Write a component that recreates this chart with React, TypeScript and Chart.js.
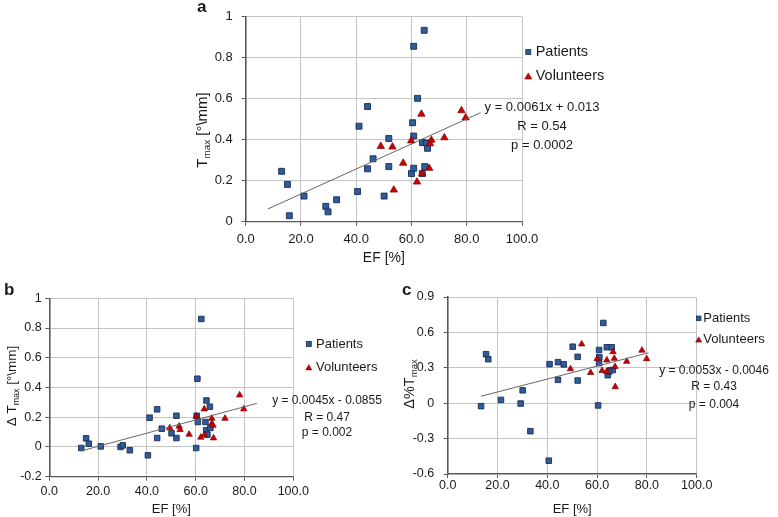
import React, { useEffect, useRef } from "react";
import { Chart, registerables } from "chart.js";

Chart.register(...registerables);

const FONT = '"Liberation Sans", Arial, Helvetica, sans-serif';

// ---------- tick labels ----------
const xTickLabels = ["0.0", "20.0", "40.0", "60.0", "80.0", "100.0"];
const aYTickLabels = ["0", "0.2", "0.4", "0.6", "0.8", "1"];
const bYTickLabels = ["-0.2", "0", "0.2", "0.4", "0.6", "0.8", "1"];
const cYTickLabels = ["-0.6", "-0.3", "0", "0.3", "0.6", "0.9"];

const seriesNames = ["Patients", "Volunteers"];

// ---------- panel a: Tmax vs EF ----------
const aPatientsEF = [13.0, 15.1, 15.8, 21.1, 29.0, 29.8, 32.9, 40.5, 41.0, 44.1, 44.1, 46.1, 50.1, 51.8, 51.8, 60.0, 60.4, 60.8, 60.8, 60.8, 62.2, 63.9, 64.0, 64.6, 64.8, 65.4, 65.8];
const aPatientsY = [0.246, 0.182, 0.029, 0.125, 0.075, 0.048, 0.107, 0.147, 0.466, 0.258, 0.562, 0.307, 0.125, 0.406, 0.269, 0.235, 0.483, 0.856, 0.418, 0.261, 0.602, 0.235, 0.386, 0.934, 0.269, 0.384, 0.358];
const aVolunteersEF = [48.9, 53.1, 53.6, 57.0, 59.9, 62.0, 63.6, 63.9, 66.4, 66.7, 67.2, 71.9, 78.1, 79.6];
const aVolunteersY = [0.368, 0.365, 0.155, 0.286, 0.395, 0.194, 0.525, 0.234, 0.261, 0.381, 0.398, 0.41, 0.542, 0.507];
const aTrendEF = [8, 85];
const aTrendY = [0.062, 0.532];
const aEquation = ["y = 0.0061x + 0.013", "R = 0.54", "p = 0.0002"];

// ---------- panel b: delta Tmax vs EF ----------
const bPatientsEF = [13.1, 15.1, 16.2, 21.1, 29.2, 30.1, 33.0, 40.4, 41.1, 44.2, 44.2, 46.1, 50.1, 52.1, 52.1, 60.2, 60.4, 60.7, 60.9, 62.3, 64.0, 64.4, 64.3, 64.8, 65.8, 66.0];
const bPatientsY = [-0.007, 0.058, 0.022, 0.004, 0.0, 0.011, -0.022, -0.056, 0.197, 0.253, 0.06, 0.123, 0.092, 0.21, 0.06, -0.007, 0.21, 0.459, 0.168, 0.861, 0.168, 0.313, 0.112, 0.083, 0.271, 0.128];
const bVolunteersEF = [49.4, 53.2, 53.6, 57.3, 60.2, 62.1, 63.5, 63.6, 66.6, 66.6, 67.1, 67.3, 72.0, 78.0, 79.7];
const bVolunteersY = [0.128, 0.139, 0.116, 0.085, 0.206, 0.065, 0.255, 0.081, 0.192, 0.157, 0.145, 0.06, 0.192, 0.349, 0.255];
const bTrendEF = [13, 85];
const bTrendY = [-0.027, 0.293];
const bEquation = ["y = 0.0045x - 0.0855", "R = 0.47", "p = 0.002"];

// ---------- panel c: delta % Tmax vs EF ----------
const cPatientsEF = [13.4, 15.4, 16.3, 21.4, 29.3, 30.1, 33.2, 40.6, 40.9, 44.3, 44.3, 46.6, 50.2, 52.2, 52.2, 60.4, 60.8, 60.8, 60.9, 62.5, 63.9, 64.3, 65.2, 65.9, 66.3, 64.7];
const cPatientsY = [-0.025, 0.415, 0.373, 0.028, -0.003, 0.109, -0.237, -0.487, 0.331, 0.348, 0.198, 0.329, 0.479, 0.393, 0.192, -0.019, 0.34, 0.451, 0.39, 0.68, 0.474, 0.237, 0.279, 0.474, 0.281, 0.267];
const cVolunteersEF = [49.3, 53.8, 57.4, 60.0, 62.0, 63.9, 63.9, 66.4, 66.9, 67.2, 67.3, 71.9, 78.0, 79.9];
const cVolunteersY = [0.29, 0.501, 0.259, 0.376, 0.276, 0.365, 0.267, 0.435, 0.379, 0.309, 0.139, 0.354, 0.448, 0.376];
const cTrendEF = [13.4, 80.6];
const cTrendY = [0.059, 0.427];
const cEquation = ["y = 0.0053x - 0.0046", "R = 0.43", "p = 0.004"];

const BLUE = "#2f5c9b";
const BLUE_EDGE = "#1a2e52";
const RED = "#cc0000";
const RED_EDGE = "#7a0000";
const GRID = "#c4c4c4";
const AXIS = "#5a5a5a";
const TEXT = "#1a1a1a";

const pts = (xs: number[], ys: number[]) => xs.map((x, i) => ({ x, y: ys[i] }));

type Panel = {
  canvas: { left: number; top: number; w: number; h: number };
  area: { left: number; top: number; right: number; bottom: number };
  y: { min: number; max: number; step: number; labels: string[] };
  tickSize: number;
  xTickPad: number;
  yTickPad: number;
  xTitleSize: number;
  xTitlePad: number;
  pr: number;
  tr: number;
  patients: { x: number; y: number }[];
  volunteers: { x: number; y: number }[];
  trend: { x: number; y: number }[];
  letter: { text: string; x: number; y: number; size: number };
  yTitle: { parts: { t: string; sub?: boolean }[]; x: number; cy: number; size: number };
  legend: { mx: number; tx: number; ys: number[]; size: number; sq: number; tri: number };
  eq: { lines: string[]; cx: number; ys: number[]; size: number };
};

const panels: Panel[] = [
  {
    canvas: { left: 180, top: 0, w: 440, h: 270 },
    area: { left: 245.7, top: 13.3, right: 522, bottom: 221.7 },
    y: { min: 0, max: 1, step: 0.2, labels: aYTickLabels },
    tickSize: 13,
    xTickPad: 5.5,
    yTickPad: 9,
    xTitleSize: 14,
    xTitlePad: 3.9,
    pr: 4.2,
    tr: 4.3,
    patients: pts(aPatientsEF, aPatientsY),
    volunteers: pts(aVolunteersEF, aVolunteersY),
    trend: pts(aTrendEF, aTrendY),
    letter: { text: "a", x: 197, y: 12, size: 17 },
    yTitle: { parts: [{ t: "T" }, { t: "max", sub: true }, { t: " [°\\mm]" }], x: 206.7, cy: 130, size: 15 },
    legend: { mx: 528.3, tx: 535.7, ys: [52, 76], size: 14.5, sq: 5, tri: 7 },
    eq: { lines: aEquation, cx: 542, ys: [107.7, 126.7, 145], size: 13 },
  },
  {
    canvas: { left: 0, top: 280, w: 390, h: 237 },
    area: { left: 49.3, top: 298.3, right: 293.3, bottom: 476.7 },
    y: { min: -0.2, max: 1, step: 0.2, labels: bYTickLabels },
    tickSize: 12.5,
    xTickPad: 3.5,
    yTickPad: 3.6,
    xTitleSize: 13,
    xTitlePad: 0.2,
    pr: 3.9,
    tr: 3.7,
    patients: pts(bPatientsEF, bPatientsY),
    volunteers: pts(bVolunteersEF, bVolunteersY),
    trend: pts(bTrendEF, bTrendY),
    letter: { text: "b", x: 4, y: 295, size: 17 },
    yTitle: { parts: [{ t: "Δ T" }, { t: "max", sub: true }, { t: " [°\\mm]" }], x: 16, cy: 386, size: 13.5 },
    legend: { mx: 308.8, tx: 316, ys: [344, 367.3], size: 13, sq: 5, tri: 6 },
    eq: { lines: bEquation, cx: 327, ys: [400.7, 417.7, 433], size: 12 },
  },
  {
    canvas: { left: 385, top: 280, w: 393, h: 237 },
    area: { left: 447.7, top: 294.3, right: 696.7, bottom: 474 },
    y: { min: -0.6, max: 0.9, step: 0.3, labels: cYTickLabels },
    tickSize: 12.5,
    xTickPad: 0,
    yTickPad: 9.5,
    xTitleSize: 13,
    xTitlePad: 0,
    pr: 3.9,
    tr: 3.7,
    patients: pts(cPatientsEF, cPatientsY),
    volunteers: pts(cVolunteersEF, cVolunteersY),
    trend: pts(cTrendEF, cTrendY),
    letter: { text: "c", x: 402, y: 295, size: 17 },
    yTitle: { parts: [{ t: "Δ%T" }, { t: "max", sub: true }], x: 413.5, cy: 384, size: 14.5 },
    legend: { mx: 698.7, tx: 703.3, ys: [318.3, 339.5], size: 13, sq: 4.5, tri: 6 },
    eq: { lines: cEquation, cx: 714, ys: [370.7, 387, 405], size: 12 },
  },
];

function drawSquare(ctx: CanvasRenderingContext2D, x: number, y: number, s: number) {
  ctx.fillStyle = BLUE;
  ctx.strokeStyle = BLUE_EDGE;
  ctx.lineWidth = 0.8;
  ctx.fillRect(x - s / 2, y - s / 2, s, s);
  ctx.strokeRect(x - s / 2, y - s / 2, s, s);
}

function drawTri(ctx: CanvasRenderingContext2D, x: number, y: number, w: number) {
  const h = w * 0.87;
  ctx.fillStyle = RED;
  ctx.strokeStyle = RED_EDGE;
  ctx.lineWidth = 0.6;
  ctx.beginPath();
  ctx.moveTo(x, y - h / 2);
  ctx.lineTo(x + w / 2, y + h / 2);
  ctx.lineTo(x - w / 2, y + h / 2);
  ctx.closePath();
  ctx.fill();
  ctx.stroke();
}

function overlayPlugin(p: Panel) {
  return {
    id: "overlay",
    afterDraw(chart: Chart) {
      const ctx = chart.ctx;
      const ox = p.canvas.left;
      const oy = p.canvas.top;
      ctx.save();
      ctx.fillStyle = TEXT;
      // panel letter
      ctx.font = `bold ${p.letter.size}px ${FONT}`;
      ctx.textAlign = "left";
      ctx.textBaseline = "alphabetic";
      ctx.fillText(p.letter.text, p.letter.x - ox, p.letter.y - oy);

      // rotated y title with subscript
      ctx.save();
      ctx.translate(p.yTitle.x - ox, p.yTitle.cy - oy);
      ctx.rotate(-Math.PI / 2);
      const sz = p.yTitle.size;
      const widths = p.yTitle.parts.map((part) => {
        ctx.font = `${part.sub ? sz * 0.66 : sz}px ${FONT}`;
        return ctx.measureText(part.t).width;
      });
      const total = widths.reduce((a, b) => a + b, 0);
      let cx = -total / 2;
      ctx.textAlign = "left";
      ctx.textBaseline = "alphabetic";
      p.yTitle.parts.forEach((part, i) => {
        ctx.font = `${part.sub ? sz * 0.66 : sz}px ${FONT}`;
        ctx.fillStyle = TEXT;
        ctx.fillText(part.t, cx, part.sub ? sz * 0.22 : 0);
        cx += widths[i];
      });
      ctx.restore();

      // legend
      const L = p.legend;
      drawSquare(ctx, L.mx - ox, L.ys[0] - oy, L.sq);
      drawTri(ctx, L.mx - ox, L.ys[1] - oy, L.tri);
      ctx.fillStyle = TEXT;
      ctx.font = `${L.size}px ${FONT}`;
      ctx.textAlign = "left";
      ctx.textBaseline = "middle";
      seriesNames.forEach((name, i) => ctx.fillText(name, L.tx - ox, L.ys[i] - oy));

      // regression text
      ctx.font = `${p.eq.size}px ${FONT}`;
      ctx.textAlign = "center";
      p.eq.lines.forEach((line, i) => ctx.fillText(line, p.eq.cx - ox, p.eq.ys[i] - oy));
      ctx.restore();
    },
  };
}

function ScatterPanel({ p }: { p: Panel }) {
  const ref = useRef<HTMLCanvasElement | null>(null);
  useEffect(() => {
    if (!ref.current) return;
    const { canvas, area } = p;
    const gridCommon = {
      color: GRID,
      lineWidth: 1,
      tickColor: AXIS,
      tickLength: 4,
      drawTicks: true,
    };
    const chart = new Chart(ref.current, {
      type: "scatter",
      data: {
        datasets: [
          {
            label: "trend",
            data: p.trend,
            showLine: true,
            borderColor: "#666666",
            borderWidth: 1,
            pointRadius: 0,
            fill: false,
          },
          {
            label: seriesNames[1],
            data: p.volunteers,
            pointStyle: "triangle",
            pointRadius: p.tr,
            backgroundColor: RED,
            borderColor: RED_EDGE,
            borderWidth: 0.7,
          },
          {
            label: seriesNames[0],
            data: p.patients,
            pointStyle: "rect",
            pointRadius: p.pr,
            backgroundColor: BLUE,
            borderColor: BLUE_EDGE,
            borderWidth: 0.9,
          },
        ],
      },
      options: {
        responsive: false,
        animation: false,
        events: [],
        layout: {
          padding: {
            left: 0,
            top: area.top - canvas.top,
            right: canvas.left + canvas.w - area.right,
            bottom: 0,
          },
        },
        plugins: { legend: { display: false }, tooltip: { enabled: false } },
        scales: {
          x: {
            type: "linear",
            min: 0,
            max: 100,
            afterFit: (s: any) => {
              s.height = canvas.top + canvas.h - area.bottom;
            },
            ticks: {
              stepSize: 20,
              autoSkip: false,
              maxRotation: 0,
              padding: p.xTickPad,
              color: TEXT,
              font: { family: FONT, size: p.tickSize },
              callback: (_v: any, i: number) => xTickLabels[i],
            },
            grid: gridCommon,
            border: { display: true, color: AXIS, width: 1.3 },
            title: {
              display: true,
              text: "EF [%]",
              color: TEXT,
              font: { family: FONT, size: p.xTitleSize },
              padding: { top: 0, bottom: p.xTitlePad },
            },
          },
          y: {
            type: "linear",
            min: p.y.min,
            max: p.y.max,
            afterFit: (s: any) => {
              s.width = area.left - canvas.left;
            },
            ticks: {
              stepSize: p.y.step,
              autoSkip: false,
              padding: p.yTickPad,
              color: TEXT,
              font: { family: FONT, size: p.tickSize },
              callback: (_v: any, i: number) => p.y.labels[i],
            },
            grid: gridCommon,
            border: { display: true, color: AXIS, width: 1.6 },
          },
        },
      },
      plugins: [overlayPlugin(p)],
    } as any);
    return () => chart.destroy();
  }, [p]);
  return (
    <canvas
      ref={ref}
      width={p.canvas.w}
      height={p.canvas.h}
      style={{
        position: "absolute",
        left: p.canvas.left,
        top: p.canvas.top,
        width: p.canvas.w,
        height: p.canvas.h,
        display: "block",
      }}
    />
  );
}

export default function App() {
  return (
    <div
      style={{
        position: "absolute",
        left: 0,
        top: 0,
        width: 778,
        height: 517,
        background: "#ffffff",
        overflow: "hidden",
      }}
    >
      {panels.map((p, i) => (
        <ScatterPanel key={i} p={p} />
      ))}
    </div>
  );
}
